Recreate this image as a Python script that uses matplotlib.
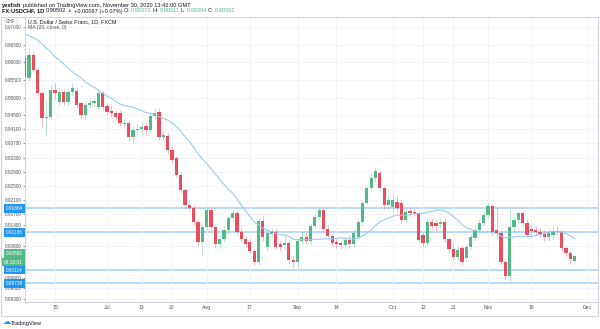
import matplotlib
matplotlib.use("Agg")
import matplotlib.pyplot as plt
import matplotlib.transforms as mtransforms
from matplotlib.patches import Rectangle
import numpy as np
import pandas as pd

plt.rcParams['font.family'] = ['Liberation Sans', 'DejaVu Sans']

# USD/CHF daily candles, 2020-06-04 .. 2020-11-30 (open, high, low, close)
opens = [0.9612, 0.9556, 0.9621, 0.9578, 0.9513, 0.9442, 0.9445, 0.9521, 0.9488, 0.9516,
         0.9488, 0.9516, 0.9519, 0.9485, 0.9451, 0.9479, 0.9485, 0.9473, 0.9513, 0.9476,
         0.9462, 0.9456, 0.9456, 0.9425, 0.9428, 0.9388, 0.9408, 0.9411, 0.9420, 0.9408,
         0.9448, 0.9459, 0.9388, 0.9391, 0.9352, 0.9328, 0.9281, 0.9238, 0.9196, 0.9187,
         0.9148, 0.9091, 0.9133, 0.9182, 0.9133, 0.9085, 0.9099, 0.9125, 0.9159, 0.9173,
         0.9119, 0.9099, 0.9091, 0.9065, 0.9034, 0.9150, 0.9077, 0.9114, 0.9119, 0.9085,
         0.9082, 0.9088, 0.9040, 0.9034, 0.9094, 0.9105, 0.9094, 0.9136, 0.9162, 0.9182,
         0.9128, 0.9108, 0.9091, 0.9088, 0.9082, 0.9097, 0.9085, 0.9105, 0.9148, 0.9201,
         0.9244, 0.9272, 0.9286, 0.9244, 0.9196, 0.9190, 0.9204, 0.9201, 0.9153, 0.9179,
         0.9176, 0.9173, 0.9111, 0.9088, 0.9148, 0.9145, 0.9142, 0.9148, 0.9099, 0.9071,
         0.9048, 0.9074, 0.9045, 0.9077, 0.9102, 0.9125, 0.9145, 0.9167, 0.9193, 0.9125,
         0.9116, 0.9034, 0.8995, 0.9133, 0.9153, 0.9173, 0.9145, 0.9128, 0.9125, 0.9119,
         0.9114, 0.9105, 0.9111, 0.9122, 0.9119, 0.9074, 0.9060, 0.90372]
highs = [0.9632, 0.9640, 0.9628, 0.9588, 0.9520, 0.9495, 0.9535, 0.9540, 0.9528, 0.9525,
         0.9525, 0.9540, 0.9530, 0.9490, 0.9488, 0.9495, 0.9500, 0.9525, 0.9520, 0.9485,
         0.9475, 0.9462, 0.9465, 0.9440, 0.9435, 0.9420, 0.9425, 0.9430, 0.9430, 0.9455,
         0.9470, 0.9470, 0.9405, 0.9400, 0.9360, 0.9335, 0.9290, 0.9245, 0.9210, 0.9195,
         0.9155, 0.9145, 0.9190, 0.9190, 0.9140, 0.9110, 0.9135, 0.9165, 0.9185, 0.9180,
         0.9130, 0.9108, 0.9100, 0.9070, 0.9160, 0.9165, 0.9125, 0.9130, 0.9130, 0.9095,
         0.9110, 0.9095, 0.9055, 0.9100, 0.9120, 0.9120, 0.9145, 0.9170, 0.9190, 0.9190,
         0.9140, 0.9115, 0.9100, 0.9095, 0.9105, 0.9110, 0.9125, 0.9155, 0.9210, 0.9250,
         0.9285, 0.9300, 0.9295, 0.9250, 0.9225, 0.9225, 0.9220, 0.9210, 0.9185, 0.9190,
         0.9185, 0.9180, 0.9120, 0.9155, 0.9160, 0.9155, 0.9160, 0.9158, 0.9105, 0.9085,
         0.9080, 0.9080, 0.9085, 0.9115, 0.9135, 0.9155, 0.9175, 0.9205, 0.9200, 0.9190,
         0.9125, 0.9040, 0.9185, 0.9165, 0.9180, 0.9180, 0.9155, 0.9140, 0.9135, 0.9130,
         0.9125, 0.9125, 0.9135, 0.9135, 0.9125, 0.9080, 0.9065, 0.90511]
lows = [0.9550, 0.9548, 0.9572, 0.9505, 0.9418, 0.9390, 0.9438, 0.9495, 0.9480, 0.9478,
        0.9478, 0.9505, 0.9470, 0.9440, 0.9440, 0.9470, 0.9475, 0.9465, 0.9465, 0.9452,
        0.9445, 0.9438, 0.9420, 0.9415, 0.9378, 0.9375, 0.9395, 0.9400, 0.9395, 0.9400,
        0.9440, 0.9380, 0.9380, 0.9340, 0.9315, 0.9275, 0.9230, 0.9185, 0.9180, 0.9140,
        0.9080, 0.9055, 0.9125, 0.9125, 0.9075, 0.9075, 0.9090, 0.9115, 0.9150, 0.9110,
        0.9090, 0.9078, 0.9058, 0.9025, 0.9025, 0.9095, 0.9065, 0.9105, 0.9070, 0.9065,
        0.9070, 0.9030, 0.9020, 0.9015, 0.9085, 0.9085, 0.9085, 0.9130, 0.9155, 0.9120,
        0.9100, 0.9080, 0.9075, 0.9070, 0.9070, 0.9075, 0.9078, 0.9100, 0.9140, 0.9195,
        0.9235, 0.9262, 0.9238, 0.9185, 0.9185, 0.9180, 0.9175, 0.9145, 0.9145, 0.9165,
        0.9165, 0.9090, 0.9080, 0.9080, 0.9128, 0.9125, 0.9130, 0.9092, 0.9060, 0.9040,
        0.9040, 0.9025, 0.9035, 0.9070, 0.9095, 0.9118, 0.9138, 0.9160, 0.9110, 0.9100,
        0.9025, 0.8985, 0.8980, 0.9120, 0.9145, 0.9135, 0.9105, 0.9110, 0.9110, 0.9105,
        0.9095, 0.9095, 0.9100, 0.9110, 0.9065, 0.9052, 0.9030, 0.90354]
closes = [0.9558, 0.9621, 0.9578, 0.9513, 0.9442, 0.9445, 0.9521, 0.9513, 0.9516, 0.9488,
          0.9516, 0.9527, 0.9479, 0.9451, 0.9479, 0.9485, 0.9490, 0.9513, 0.9473, 0.9459,
          0.9456, 0.9445, 0.9428, 0.9428, 0.9388, 0.9408, 0.9411, 0.9417, 0.9408, 0.9448,
          0.9456, 0.9388, 0.9394, 0.9352, 0.9323, 0.9281, 0.9238, 0.9196, 0.9187, 0.9148,
          0.9091, 0.9133, 0.9182, 0.9133, 0.9085, 0.9099, 0.9125, 0.9159, 0.9173, 0.9119,
          0.9099, 0.9085, 0.9065, 0.9034, 0.9150, 0.9105, 0.9116, 0.9119, 0.9077, 0.9077,
          0.9088, 0.9040, 0.9034, 0.9094, 0.9105, 0.9094, 0.9136, 0.9162, 0.9182, 0.9128,
          0.9108, 0.9088, 0.9085, 0.9082, 0.9097, 0.9085, 0.9116, 0.9148, 0.9201, 0.9244,
          0.9272, 0.9292, 0.9244, 0.9196, 0.9210, 0.9210, 0.9187, 0.9153, 0.9176, 0.9173,
          0.9173, 0.9097, 0.9088, 0.9148, 0.9136, 0.9136, 0.9148, 0.9099, 0.9071, 0.9048,
          0.9068, 0.9034, 0.9077, 0.9105, 0.9125, 0.9145, 0.9167, 0.9193, 0.9119, 0.9116,
          0.9034, 0.8995, 0.9133, 0.9153, 0.9173, 0.9145, 0.9111, 0.9122, 0.9119, 0.9114,
          0.9105, 0.9116, 0.9122, 0.9119, 0.9074, 0.9060, 0.90435, 0.90502]

# MA(20) for the first days (needs closes before the window)
ma_head = [0.9680, 0.9675, 0.9669, 0.9663, 0.9652, 0.9640, 0.9629, 0.9615, 0.9607, 0.9595,
           0.9584, 0.9573, 0.9564, 0.9556, 0.9544, 0.9536, 0.9530, 0.9521, 0.9513]

level_lines = [0.91864, 0.91186, 0.90114, 0.89738]
last_price = 0.90502
countdown = "08:18:01"

y_ticks = [0.970, 0.965, 0.960, 0.955, 0.950, 0.945, 0.941, 0.937, 0.933, 0.929,
           0.925, 0.921, 0.917, 0.914, 0.908, 0.899, 0.896, 0.893]
x_tick_dates = ['2020-06-15', '2020-07-01', '2020-07-13', '2020-07-22', '2020-08-03',
                '2020-08-17', '2020-09-01', '2020-09-14', '2020-10-01', '2020-10-12',
                '2020-10-21', '2020-11-02', '2020-11-16', '2020-12-01']
x_tick_labels = ['15', 'Jul', '13', '22', 'Aug', '17', 'Sep', '14', 'Oct', '12', '21',
                 'Nov', '16', 'Dec']

UP = '#53b987'
DOWN = '#eb4d5c'
GRID = '#f0f3fa'
BORDER = '#d1d4dc'
TXT = '#4c525e'

days = pd.bdate_range('2020-06-04', '2020-11-30')
o = np.array(opens); h = np.array(highs); l = np.array(lows); c = np.array(closes)
x = np.arange(len(days))

ma = pd.Series(c).rolling(20).mean().to_numpy()
ma[:len(ma_head)] = ma_head

W, H = 600, 329
fig = plt.figure(figsize=(W / 100, H / 100), dpi=100)
fig.patch.set_facecolor('white')

ax = fig.add_axes([25 / W, 1 - 302 / H, 573 / W, 284 / H])
ax.set_xlim(0.06, 132.4)
ax.set_ylim(0.89210, 0.97255)

up = c >= o
col = np.where(up, UP, DOWN)
ax.vlines(x, l, h, colors=col, lw=0.6, alpha=0.45, zorder=2)
body = np.maximum(np.abs(c - o), 0.00012)
ax.bar(x, body, bottom=np.minimum(o, c), width=0.74, color=col, lw=0, zorder=3)

ax.plot(x, ma, color='#94c8f3', lw=0.75, zorder=4)
for lv in level_lines:
    ax.axhline(lv, color='#a4cff5', lw=1.1, zorder=1)

# axes styling
ax.set_yticks(y_ticks)
ax.set_yticklabels([f'{v:.5f}' for v in y_ticks])
tick_pos = [days.get_loc(pd.Timestamp(d)) if pd.Timestamp(d) in days else len(days) + 2
            for d in x_tick_dates]
ax.set_xticks(tick_pos)
ax.set_xticklabels(x_tick_labels)
ax.tick_params(axis='y', length=1.5, width=0.5, pad=1, labelsize=3.4, colors=TXT)
ax.tick_params(axis='x', length=0, pad=2.5, labelsize=3.7, colors=TXT)
ax.grid(True, color=GRID, lw=0.6, zorder=0)
for s in ['top', 'right']:
    ax.spines[s].set_visible(False)
for s in ['left', 'bottom']:
    ax.spines[s].set_color(BORDER)
    ax.spines[s].set_linewidth(0.8)

# price labels on the scale
trans = mtransforms.blended_transform_factory(ax.transAxes, ax.transData)
for lv in level_lines:
    ax.text(-0.004, lv, f'{lv:.5f}', transform=trans, ha='right', va='center',
            fontsize=3.4, color='white', clip_on=False, zorder=10,
            bbox=dict(boxstyle='square,pad=0.4', fc='#2196f3', ec='none'))
ax.text(-0.004, last_price + 0.0008, f'{last_price:.5f}', transform=trans, ha='right',
        va='center', fontsize=3.4, color='white', clip_on=False, zorder=10,
        bbox=dict(boxstyle='square,pad=0.4', fc=UP, ec='none'))
ax.text(-0.004, last_price - 0.0016, countdown, transform=trans, ha='right',
        va='center', fontsize=3.4, color='white', clip_on=False, zorder=10,
        bbox=dict(boxstyle='square,pad=0.4', fc=UP, ec='none'))

# chart frame
fig.add_artist(Rectangle((1 / W, 1 - 316 / H), 597 / W, 299 / H, transform=fig.transFigure,
                         fill=False, ec=BORDER, lw=0.8))

# header
fig.canvas.draw()
renderer = fig.canvas.get_renderer()


def chain(x0, y0, parts, size):
    xp = x0
    for txt, color, weight in parts:
        t = fig.text(xp, y0, txt, fontsize=size, color=color, weight=weight, va='center')
        bb = t.get_window_extent(renderer)
        xp += bb.width / W + 1.2 / W
    return xp


chain(2 / W, 1 - 5 / H, [('yesfish', '#131722', 'bold'),
                         ('published on TradingView.com, November 30, 2020 13:42:00 GMT',
                          '#131722', 'normal')], 4.1)
chain(2 / W, 1 - 11 / H, [('FX:USDCHF, 1D', '#131722', 'bold'),
                          ('0.90502', '#131722', 'normal'),
                          ('▲', UP, 'normal'),
                          ('+0.00067 (+0.07%)', '#131722', 'normal'),
                          ('O:', '#131722', 'normal'), ('0.90372', UP, 'normal'),
                          ('H:', '#131722', 'normal'), ('0.90511', UP, 'normal'),
                          ('L:', '#131722', 'normal'), ('0.90394', UP, 'normal'),
                          ('C:', '#131722', 'normal'), ('0.90502', UP, 'normal')], 4.1)

# legend inside the pane
fig.text(28 / W, 1 - 22 / H, 'U.S. Dollar / Swiss Franc, 1D, FXCM', fontsize=3.9,
         color='#131722', va='center')
fig.text(28 / W, 1 - 28 / H, 'MA (20, close, 0)', fontsize=3.7, color=TXT, va='center')
fig.text(11 / W, 1 - 21.5 / H, 'CHF', fontsize=3.4, color=TXT, ha='center', va='center',
         bbox=dict(boxstyle='round,pad=0.3,rounding_size=0.4', fc='white', ec=BORDER,
                   lw=0.5))

# footer logo
fig.text(3 / W, 1 - 323 / H, '☁', fontsize=6, color='#2196f3', va='center')
fig.text(11 / W, 1 - 323 / H, 'TradingView', fontsize=4.1, color='#131722', va='center')

fig.savefig('out.png', dpi=100)
